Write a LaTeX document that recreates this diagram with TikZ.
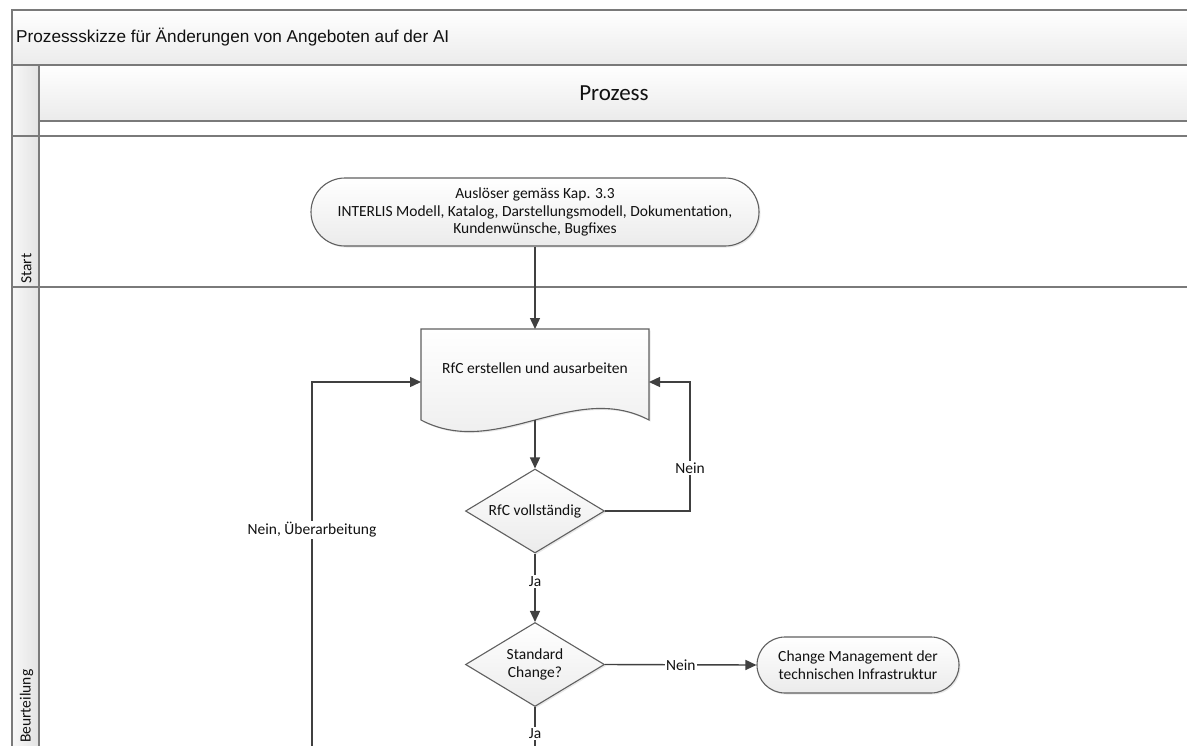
\documentclass[tikz,border=0pt]{standalone}
\usepackage{fontspec}
\setmainfont{Carlito}
\newfontfamily\arialfont{Liberation Sans}
\usetikzlibrary{arrows.meta,shapes.geometric,shadows}
\definecolor{conncol}{HTML}{404040}
\definecolor{bordercol}{HTML}{606060}
\definecolor{lanecol}{HTML}{7A7A7A}
\definecolor{bandbot}{HTML}{EBEBEB}
\definecolor{textcol}{HTML}{111111}
\tikzset{
  conn/.style={draw=conncol, line width=1.4pt, -{Triangle[length=11pt,width=10pt]}},
  shapebox/.style={draw=bordercol, line width=1.1pt, top color=white, bottom color=bandbot,
    drop shadow={opacity=0.18, shadow xshift=1.5pt, shadow yshift=-1.5pt}},
  bodytext/.style={text=textcol, font=\fontsize{15.5}{17.5}\selectfont, align=center},
  terminal/.style={shapebox, bodytext, rectangle, inner sep=0pt},
  decision/.style={shapebox, bodytext, diamond, aspect=1.65, inner sep=0pt,
    minimum width=139pt, minimum height=84pt},
  lbl/.style={fill=white, inner sep=1.5pt, text=textcol, font=\fontsize{15.5}{17}\selectfont},
  lanetxt/.style={text=textcol, font=\fontsize{15.5}{17}\selectfont, rotate=90, inner sep=0pt},
  laneline/.style={draw=lanecol, line width=1.5pt},
}
\begin{document}
\begin{tikzpicture}[x=1pt,y=-1pt]
\useasboundingbox (0,0) rectangle (1187,745);
\clip (0,0) rectangle (1187,745);
\fill[white] (0,0) rectangle (1187,745);
% swimlane frame
\path[top color=white, bottom color=bandbot] (12,10) rectangle (1200,65);
\path[left color=white!97!black, right color=white!89!black] (12,65) rectangle (39,800);
\path[top color=white, bottom color=bandbot] (39,65) rectangle (1200,121);
\draw[laneline] (1200,10) -- (12,10) -- (12,800);
\draw[laneline] (12,65) -- (1200,65);
\draw[laneline] (39,65) -- (39,800);
\draw[laneline] (39,121) -- (1200,121);
\draw[laneline] (12,136) -- (1200,136);
\draw[laneline] (12,287) -- (1200,287);
% headers
\node[anchor=west, inner sep=0pt, text=textcol, font=\arialfont\fontsize{17.2}{20}\selectfont] (title) at (16,37.5) {Prozessskizze für Änderungen von Angeboten auf der AI};
\node[text=textcol, font=\fontsize{23}{26}\selectfont] (phead) at (614,93) {Prozess};
\node[lanetxt, anchor=west] (lstart) at (26.5,284) {Start};
\node[lanetxt, anchor=west] (lbeur) at (26.5,743) {Beurteilung};
% shapes
\node[terminal, minimum width=448pt, minimum height=68pt, rounded corners=34pt] (start) at (535,212)
  {Auslöser gemäss Kap. 3.3\\INTERLIS Modell, Katalog, Darstellungsmodell, Dokumentation,\\Kundenwünsche, Bugfixes};
\draw[shapebox] (421,329) -- (649,329) -- (649,420) .. controls (573,380) and (497,460) .. (421,420) -- cycle;
\node[bodytext] (doc) at (535,368) {RfC erstellen und ausarbeiten};
\coordinate (docT) at (535,329);
\coordinate (docB) at (535,420);
\coordinate (docL) at (421,382);
\coordinate (docR) at (649,382);
\node[decision] (d1) at (535,511) {RfC vollständig};
\node[decision] (d2) at (535,664.5) {Standard\\Change?};
\node[terminal, minimum width=202pt, minimum height=56pt, rounded corners=28pt] (cm) at (858,665)
  {Change Management der\\technischen Infrastruktur};
% connectors
\coordinate (loopR) at (690,382);
\coordinate (loopL) at (312,800);
\coordinate (bottomOut) at (535,800);
\draw[conn] (start.south) -- (docT);
\draw[conn] (docB) -- (d1.north);
\draw[conn] (d1.east) -| node[lbl, pos=0.667] (lneinA) {Nein} (loopR) -- (docR);
\draw[conn] (d1.south) -- node[lbl, pos=0.414] (ljaA) {Ja} (d2.north);
\draw[conn] (d2.east) -- node[lbl] (lneinB) {Nein} (cm.west);
\draw[conn] (d2.south) -- node[lbl, pos=0.28] (ljaB) {Ja} (bottomOut);
\draw[conn] (loopL) |- node[lbl, pos=0.323] (lneinC) {Nein, Überarbeitung} (docL);
\end{tikzpicture}
\end{document}
